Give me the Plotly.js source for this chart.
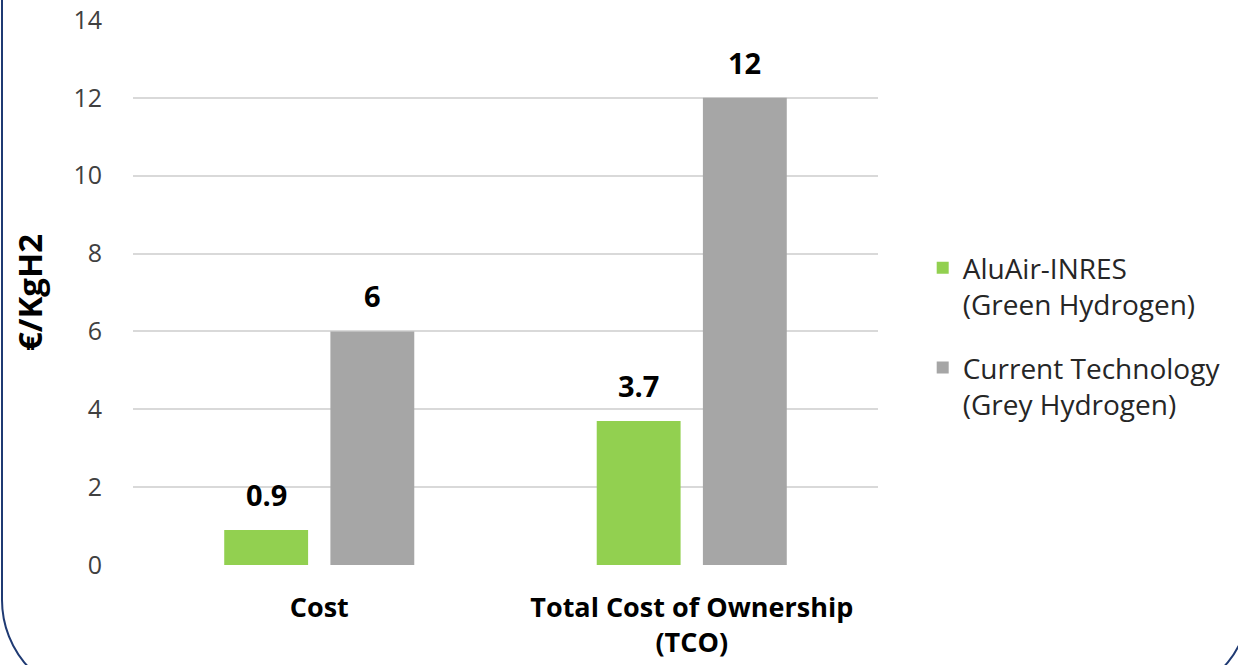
<!DOCTYPE html>
<html>
<head>
<meta charset="utf-8">
<script src="https://cdn.plot.ly/plotly-3.0.1.min.js"></script>
<style>
  html, body { margin: 0; padding: 0; background: #ffffff; overflow: hidden; }
  #frame { position: absolute; left: 1px; top: -120px; width: 1250px; height: 820px;
           border: 2px solid #1f3a73; border-radius: 100px; box-sizing: border-box; pointer-events: none; z-index: 5; }
  #chart { position: absolute; left: 0; top: 0; width: 1238px; height: 665px; }
</style>
</head>
<body>
<div id="chart"></div>
<div id="frame"></div>
<script>
const categories = ["Cost", "Total Cost of Ownership<br>(TCO)"];
const greenValues = [0.9, 3.7];
const greyValues = [6, 12];
const seriesNames = ["AluAir-INRES<br>(Green Hydrogen)", "Current Technology<br>(Grey Hydrogen)"];
const seriesColors = ["#92d050", "#a6a6a6"];
const yTicks = [0, 2, 4, 6, 8, 10, 12, 14];

const FONT = "'Open Sans', 'DejaVu Sans', sans-serif";
const BARGAP = 0.43;
const BARGROUPGAP = 0.21;

const allSeries = [greenValues, greyValues];

const traces = allSeries.map((vals, i) => ({
  type: "bar", x: categories, y: vals, name: seriesNames[i],
  legendgroup: "g" + i,
  marker: { color: seriesColors[i] },
  hoverinfo: "none"
}));

// data labels: placed over each bar using the group layout parameters
const nSeries = allSeries.length;
const slot = (1 - BARGAP) / nSeries;
const annotations = [];
allSeries.forEach((vals, i) => {
  const off = (i - (nSeries - 1) / 2) * slot;
  vals.forEach((v, j) => {
    annotations.push({
      x: j + off, y: v, xref: "x", yref: "y",
      text: "<b>" + v + "</b>", showarrow: false,
      yanchor: "bottom", yshift: 14,
      font: { family: FONT, size: 29, color: "#000000" }
    });
  });
});

const layout = {
  width: 1238, height: 665,
  margin: { l: 133, r: 358, t: 20, b: 100, pad: 0 },
  paper_bgcolor: "#ffffff", plot_bgcolor: "#ffffff",
  font: { family: FONT, size: 24, color: "#404040" },
  barmode: "group",
  bargap: BARGAP,
  bargroupgap: BARGROUPGAP,
  showlegend: true,
  legend: {
    x: 1.06, xanchor: "left", y: 0.42, yanchor: "middle",
    valign: "top", tracegroupgap: 24,
    font: { family: FONT, size: 28, color: "#262626" },
    bgcolor: "rgba(0,0,0,0)"
  },
  annotations: annotations,
  xaxis: {
    type: "category",
    tickfont: { family: FONT, size: 27, color: "#000000", weight: "bold" },
    showgrid: false, zeroline: false, showline: false,
    ticks: "", ticklen: 0, ticklabelstandoff: 24
  },
  yaxis: {
    range: [0, 14], tickvals: yTicks, ticktext: yTicks.map(String),
    tickfont: { family: FONT, size: 25, color: "#404040" },
    showgrid: true, gridcolor: "#d9d9d9", gridwidth: 2,
    zeroline: false, showline: false, ticks: "",
    ticklabelstandoff: 30,
    title: { text: "<b>€/KgH2</b>", font: { family: FONT, size: 33, color: "#000000" }, standoff: 20 }
  }
};

Plotly.newPlot("chart", traces, layout, { staticPlot: true, displayModeBar: false });
</script>
</body>
</html>
